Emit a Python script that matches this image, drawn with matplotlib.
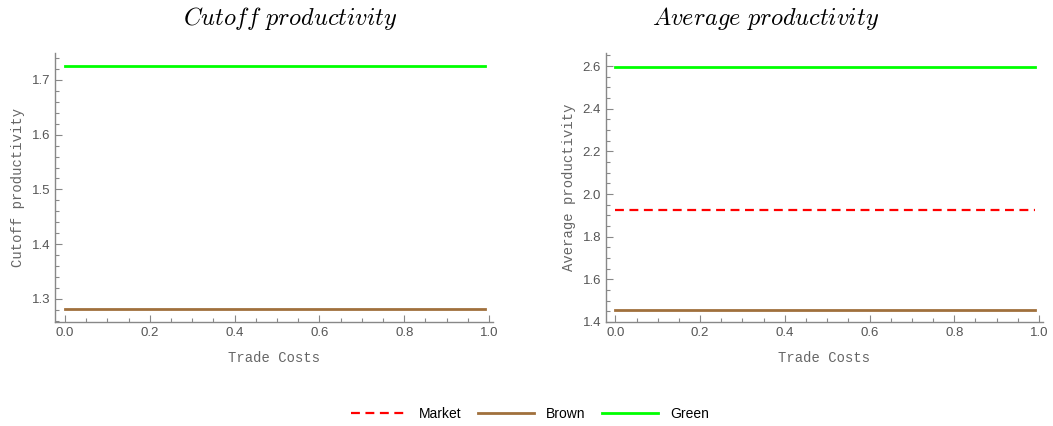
import numpy as np
import matplotlib
matplotlib.use("Agg")
import matplotlib.pyplot as plt
from matplotlib.ticker import MultipleLocator, FormatStrFormatter
from matplotlib.lines import Line2D

# data (flat lines over trade costs)
trade_costs = [0.0, 0.99]
cutoff_brown = [1.281, 1.281]
cutoff_green = [1.726, 1.726]
avg_market = [1.926, 1.926]
avg_brown = [1.458, 1.458]
avg_green = [2.597, 2.597]

RED = "#ff0000"
BROWN = "#a0703c"
GREEN = "#00ff00"
GRAY = "#555555"
AXC = "#888888"

plt.rcParams["mathtext.fontset"] = "cm"

fig = plt.figure(figsize=(10.53, 4.26), dpi=100)
W, H = 1053, 426

def make_ax(x0, x1, y0, y1):
    return fig.add_axes([x0 / W, 1 - y1 / H, (x1 - x0) / W, (y1 - y0) / H])

def style(ax, ylabel, xlim, ylim, ymaj, ymin):
    ax.set_xlim(*xlim)
    ax.set_ylim(*ylim)
    for s in ["top", "right"]:
        ax.spines[s].set_visible(False)
    for s in ["left", "bottom"]:
        ax.spines[s].set_color(AXC)
        ax.spines[s].set_linewidth(1.0)
    ax.xaxis.set_major_locator(MultipleLocator(0.2))
    ax.xaxis.set_minor_locator(MultipleLocator(0.05))
    ax.yaxis.set_major_locator(MultipleLocator(ymaj))
    ax.yaxis.set_minor_locator(MultipleLocator(ymin))
    ax.yaxis.set_major_formatter(FormatStrFormatter("%.1f"))
    ax.tick_params(which="both", direction="in", color=AXC, labelcolor=GRAY,
                   labelsize=9.5, width=0.8)
    ax.tick_params(which="major", length=5)
    ax.tick_params(which="minor", length=3)
    for lab in ax.get_xticklabels() + ax.get_yticklabels():
        lab.set_fontfamily("Liberation Sans")
    ax.set_xlabel("Trade Costs", family="Liberation Mono", fontsize=10,
                  color="#666666", labelpad=9)
    ax.set_ylabel(ylabel, family="Liberation Mono", fontsize=10,
                  color="#666666", labelpad=5)

# left panel
ax1 = make_ax(55, 493, 53, 322)
ax1.plot(trade_costs, cutoff_green, color=GREEN, lw=2)
ax1.plot(trade_costs, cutoff_brown, color=BROWN, lw=2)
style(ax1, "Cutoff productivity", (-0.0236, 1.0094), (1.258, 1.749), 0.1, 0.02)

# right panel
ax2 = make_ax(606, 1043, 53, 322)
ax2.plot(trade_costs, avg_green, color=GREEN, lw=2)
ax2.plot(trade_costs, avg_market, color=RED, lw=1.6, ls=(0, (4, 2.5)))
ax2.plot(trade_costs, avg_brown, color=BROWN, lw=2)
style(ax2, "Average productivity", (-0.022, 1.0094), (1.4, 2.661), 0.2, 0.05)

fig.text(290 / W, 1 - 18 / H, r"$\mathit{Cutoff\ productivity}$",
         ha="center", va="center", fontsize=17.5)
fig.text(766 / W, 1 - 18 / H, r"$\mathit{Average\ productivity}$",
         ha="center", va="center", fontsize=17.5)

handles = [Line2D([], [], color=RED, lw=1.6, ls=(0, (4, 2.5))),
           Line2D([], [], color=BROWN, lw=2),
           Line2D([], [], color=GREEN, lw=2)]
fig.legend(handles, ["Market", "Brown", "Green"], loc="center",
           bbox_to_anchor=(530 / W, 1 - 414 / H), ncol=3, frameon=False,
           prop={"family": "Liberation Sans", "size": 10},
           handlelength=4.0, handletextpad=0.9, columnspacing=1.2)

fig.savefig("out.png", dpi=100)
